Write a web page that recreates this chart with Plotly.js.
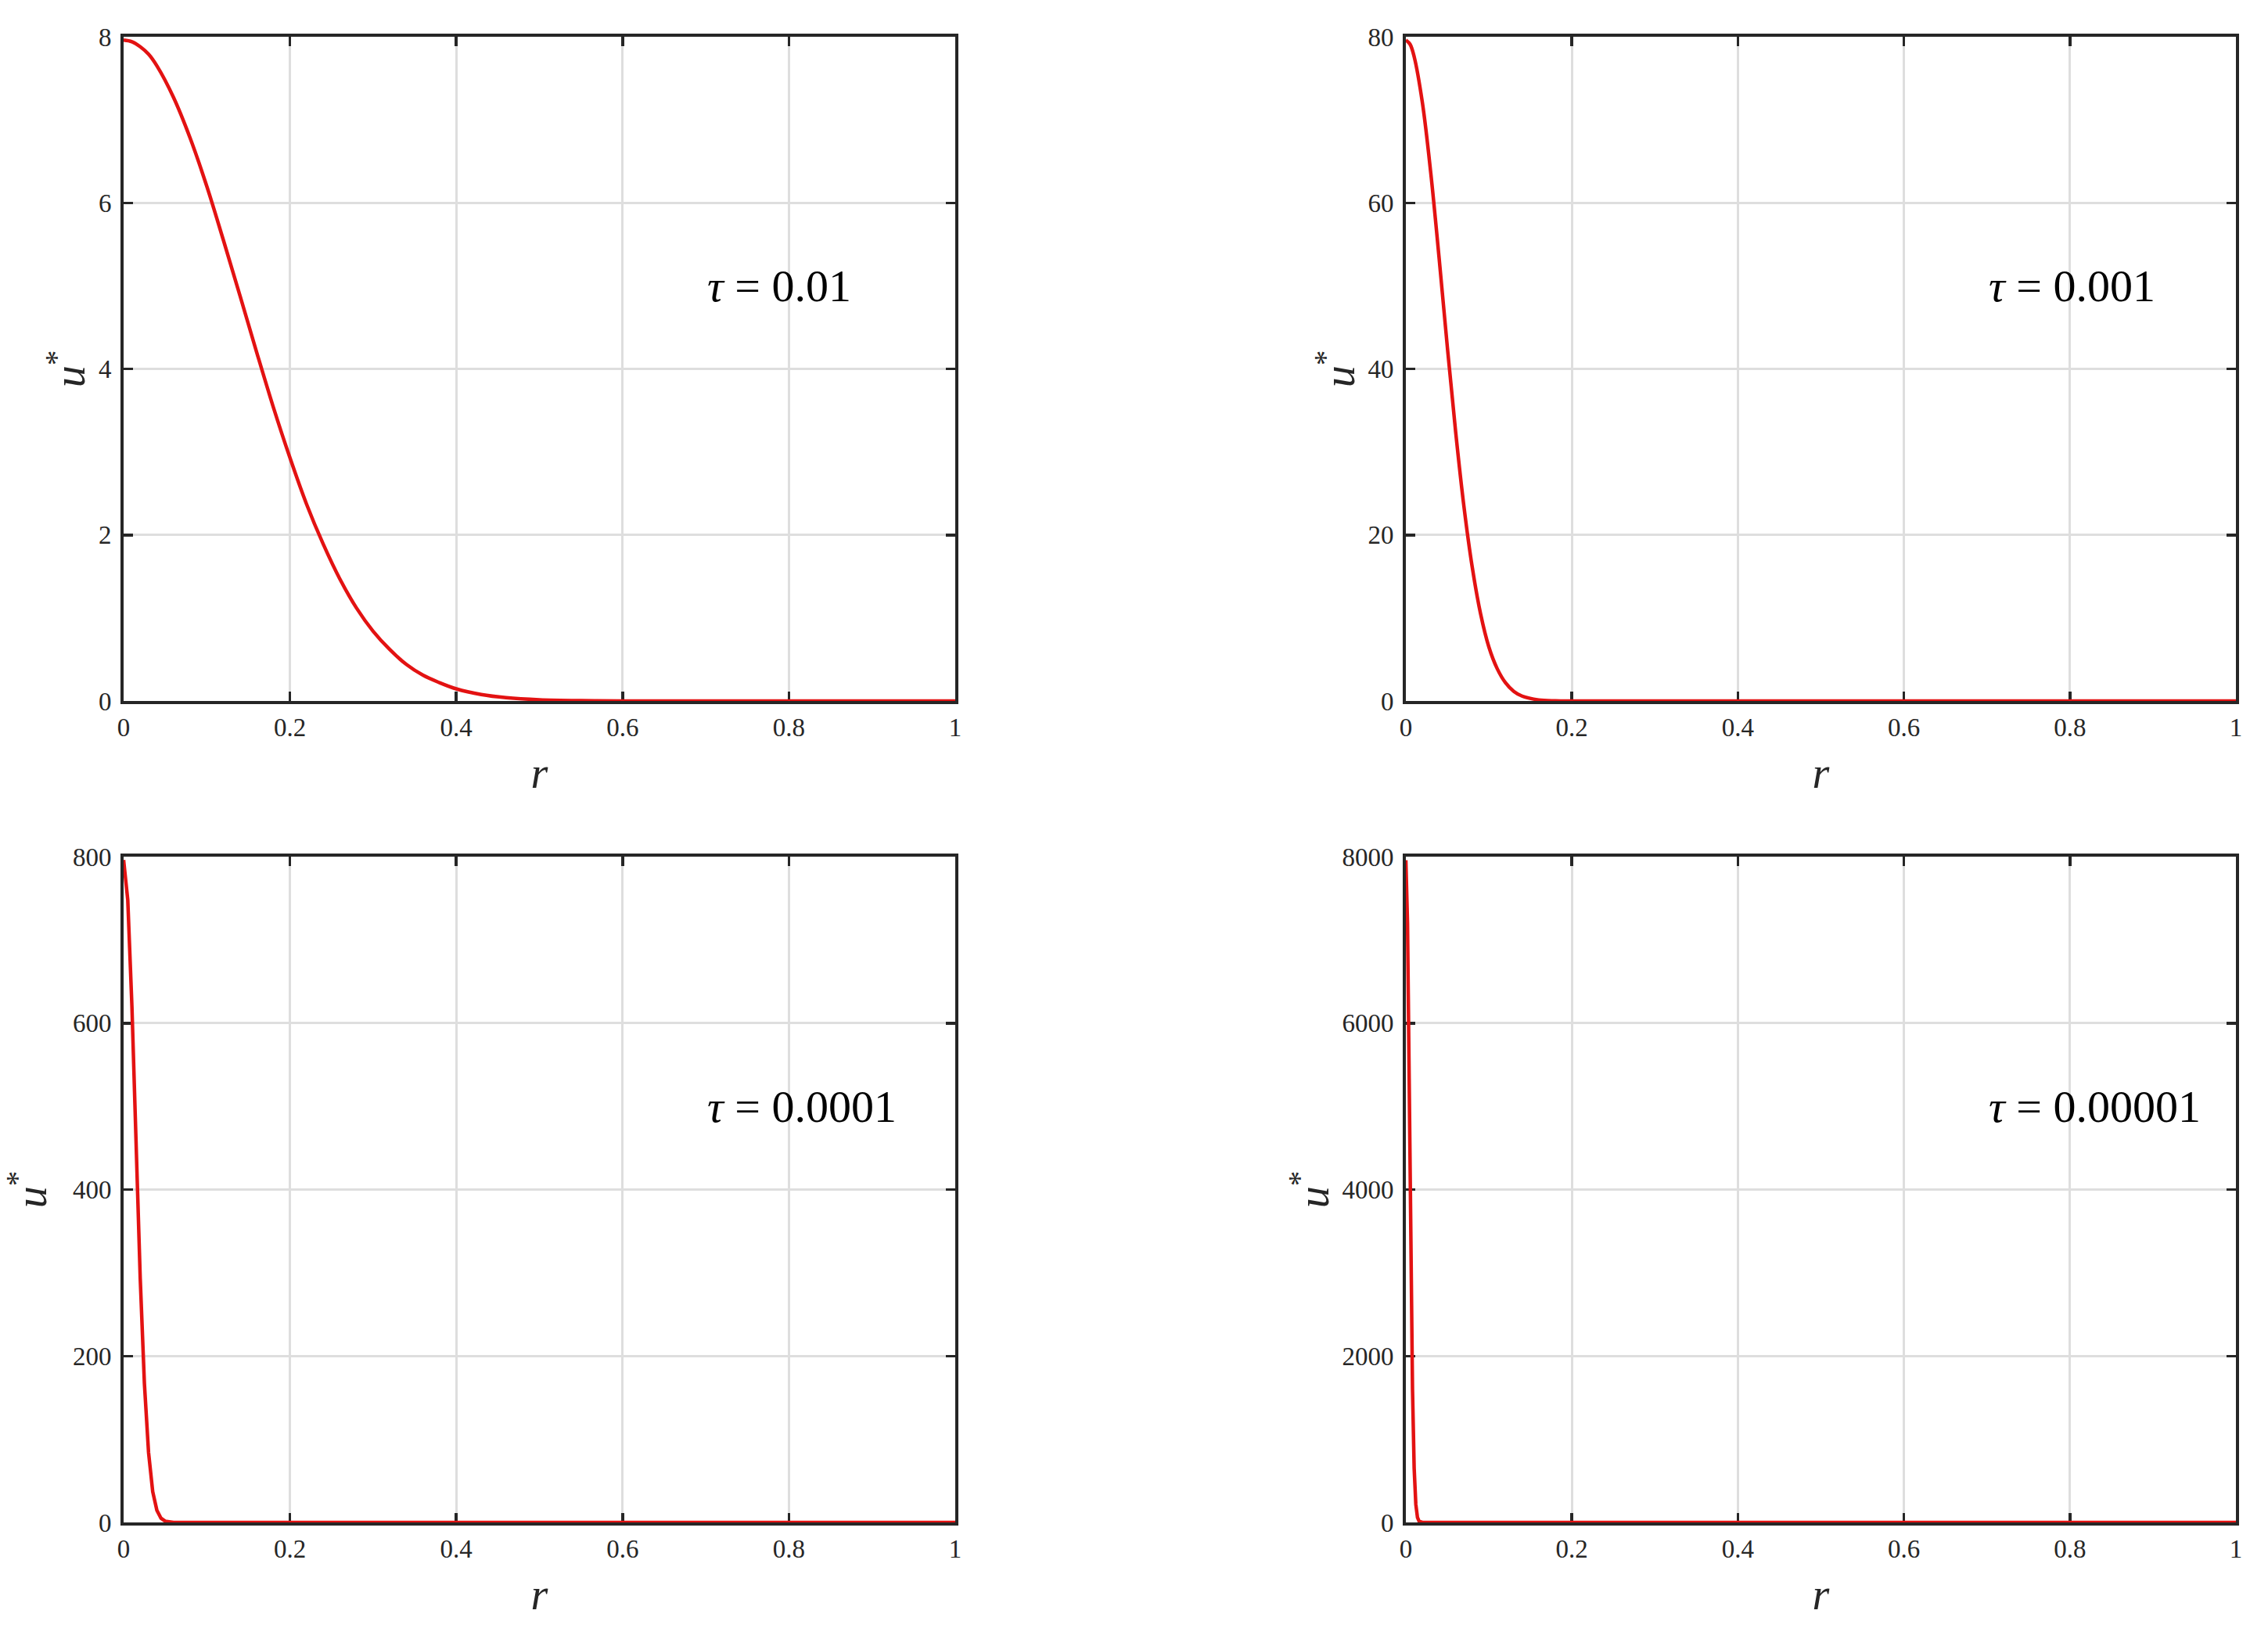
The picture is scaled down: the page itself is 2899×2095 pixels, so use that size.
<!DOCTYPE html>
<html>
<head>
<meta charset="utf-8">
<script src="https://cdn.plot.ly/plotly-3.0.1.min.js"></script>
<style>html,body{margin:0;padding:0;background:#fff;}#chart{width:2899px;height:2095px;}</style>
</head>
<body>
<div id="chart"></div>
<script>
// ---- data ----
const tauLabels = ["0.01", "0.001", "0.0001", "0.00001"];

const r_tau1 = [0, 0.01, 0.02, 0.03, 0.04, 0.06, 0.08, 0.10, 0.12, 0.14, 0.16, 0.18, 0.20, 0.22, 0.24, 0.26, 0.28, 0.30, 0.32, 0.34, 0.36, 0.38, 0.40, 0.43, 0.46, 0.50, 0.55, 0.60, 0.70, 0.80, 0.90, 1.00];
const u_tau1 = [7.96, 7.94, 7.88, 7.79, 7.65, 7.27, 6.78, 6.20, 5.55, 4.88, 4.20, 3.54, 2.93, 2.37, 1.89, 1.47, 1.12, 0.84, 0.62, 0.44, 0.31, 0.22, 0.146, 0.078, 0.040, 0.015, 0.004, 0.001, 0, 0, 0, 0];

const r_tau2 = [0, 0.005, 0.01, 0.02, 0.03, 0.04, 0.05, 0.06, 0.07, 0.08, 0.09, 0.10, 0.11, 0.12, 0.13, 0.14, 0.16, 0.18, 0.20, 0.40, 0.60, 0.80, 1.00];
const u_tau2 = [79.6, 79.1, 77.6, 72.0, 63.6, 53.4, 42.6, 32.4, 23.4, 16.1, 10.5, 6.5, 3.9, 2.2, 1.16, 0.59, 0.13, 0.024, 0, 0, 0, 0, 0];

const r_tau3 = [0, 0.005, 0.01, 0.015, 0.02, 0.025, 0.03, 0.035, 0.04, 0.045, 0.05, 0.06, 0.10, 0.20, 0.40, 0.60, 0.80, 1.00];
const u_tau3 = [796, 748, 620, 454, 293, 167, 84, 37, 14.6, 5.0, 1.5, 0.1, 0, 0, 0, 0, 0, 0];

const r_tau4 = [0, 0.002, 0.004, 0.006, 0.008, 0.010, 0.012, 0.014, 0.016, 0.020, 0.05, 0.20, 0.40, 0.60, 0.80, 1.00];
const u_tau4 = [7958, 7200, 5330, 3240, 1600, 650, 217, 59, 13, 0.3, 0, 0, 0, 0, 0, 0];

const xTickVals = [0, 0.2, 0.4, 0.6, 0.8, 1];
const xTickText = ["0", "0.2", "0.4", "0.6", "0.8", "1"];
const yMax = [8, 80, 800, 8000];
const yTick1 = [0, 2, 4, 6, 8];
const yTick2 = [0, 20, 40, 60, 80];
const yTick3 = [0, 200, 400, 600, 800];
const yTick4 = [0, 2000, 4000, 6000, 8000];

// ---- styling ----
const W = 2899, H = 2095;
const RED = '#e31212';
const AX = '#262626';
const GRID = '#dedede';
const SERIF = '"Liberation Serif", "Times New Roman", serif';

const xd = [[158 / W, 1221 / W], [1797 / W, 2858 / W]];
const ydTop = [1 - 896 / H, 1 - 47 / H];
const ydBot = [1 - 1946 / H, 1 - 1095 / H];

const rs = [r_tau1, r_tau2, r_tau3, r_tau4];
const us = [u_tau1, u_tau2, u_tau3, u_tau4];
const yTicks = [yTick1, yTick2, yTick3, yTick4];
const shapes = ['spline', 'spline', 'linear', 'linear'];

const traces = rs.map((r, i) => ({
  x: r, y: us[i],
  xaxis: i === 0 ? 'x' : 'x' + (i + 1),
  yaxis: i === 0 ? 'y' : 'y' + (i + 1),
  type: 'scatter', mode: 'lines',
  line: {color: RED, width: 4.5, shape: shapes[i], smoothing: 1},
  cliponaxis: false,
  showlegend: false,
  hoverinfo: 'skip'
}));

function xAxis(i) {
  return {
    domain: xd[i % 2],
    anchor: i === 0 ? 'y' : 'y' + (i + 1),
    range: [0, 1],
    tickmode: 'array', tickvals: xTickVals, ticktext: xTickText,
    ticks: 'inside', ticklen: 12, tickwidth: 3.5, tickcolor: AX,
    showline: true, linecolor: AX, linewidth: 4, mirror: 'ticks',
    showgrid: true, gridcolor: GRID, gridwidth: 3,
    zeroline: false,
    layer: 'below traces',
    tickfont: {family: SERIF, size: 33, color: AX},
    ticklabelstandoff: 1,
    title: {text: '<i>r</i>', font: {family: SERIF, size: 56, color: AX}, standoff: 22},
    fixedrange: true
  };
}
const yStandoff = [0, 0, 90, 0];
function yAxis(i) {
  return {
    domain: i < 2 ? ydTop : ydBot,
    anchor: i === 0 ? 'x' : 'x' + (i + 1),
    range: [0, yMax[i]],
    tickmode: 'array', tickvals: yTicks[i], ticktext: yTicks[i].map(String),
    ticks: 'inside', ticklen: 12, tickwidth: 3.5, tickcolor: AX,
    showline: true, linecolor: AX, linewidth: 4, mirror: 'ticks',
    showgrid: true, gridcolor: GRID, gridwidth: 3,
    zeroline: false,
    layer: 'below traces',
    tickfont: {family: SERIF, size: 33, color: AX},
    ticklabelstandoff: 5,
    title: {text: '<i>u</i><sup>*</sup>', font: {family: SERIF, size: 56, color: AX}, standoff: yStandoff[i]},
    fixedrange: true
  };
}

const annYFrac = 5 / 8;
const annotations = tauLabels.map((t, i) => ({
  xref: i === 0 ? 'x' : 'x' + (i + 1),
  yref: i === 0 ? 'y' : 'y' + (i + 1),
  x: 0.70, y: yMax[i] * annYFrac,
  xanchor: 'left', yanchor: 'middle',
  text: '<i>τ</i> = ' + t,
  showarrow: false,
  font: {family: SERIF, size: 58, color: '#000'}
}));

const layout = {
  width: W, height: H,
  margin: {l: 0, r: 0, t: 0, b: 0},
  paper_bgcolor: '#fff', plot_bgcolor: '#fff',
  showlegend: false,
  annotations: annotations
};
for (let i = 0; i < 4; i++) {
  layout[i === 0 ? 'xaxis' : 'xaxis' + (i + 1)] = xAxis(i);
  layout[i === 0 ? 'yaxis' : 'yaxis' + (i + 1)] = yAxis(i);
}

Plotly.newPlot('chart', traces, layout, {staticPlot: true, displayModeBar: false});
</script>
</body>
</html>
